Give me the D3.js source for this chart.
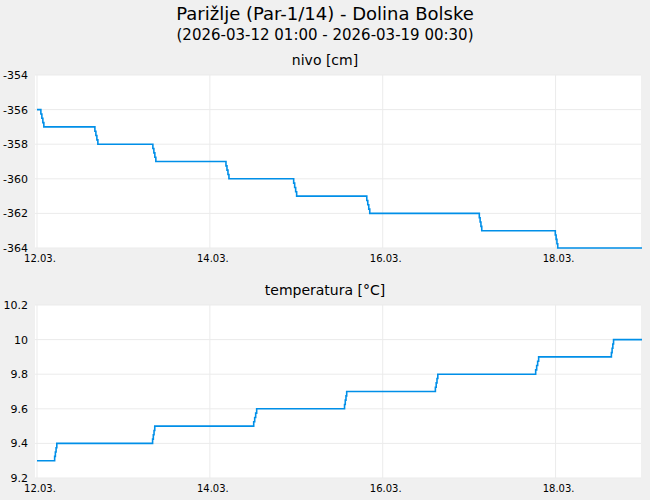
<!DOCTYPE html>
<html><head><meta charset="utf-8">
<script src="https://cdn.jsdelivr.net/npm/d3@7"></script>
<style>body{margin:0;background:#f0f0f0}svg{font-family:"DejaVu Sans",sans-serif}</style>
</head><body><svg id="c" width="650" height="500"></svg>
<script>
// hours since 12.03. 00:00 and value at each breakpoint
var nivoHours=[0,0.8,1.9,15.8,16.9,31.9,33,52.2,53.3,71,72.1,91.3,92.4,122.6,123.5,143.7,144.6,168];
var nivoVals=[-356,-356,-357,-357,-358,-358,-359,-359,-360,-360,-361,-361,-362,-362,-363,-363,-364,-364];
var tempHours=[0,4.7,5.5,31.9,32.7,59.9,61,85.2,86,110.4,111.3,138.2,139.3,159.3,160.1,168];
var tempVals=[9.3,9.3,9.4,9.4,9.5,9.5,9.6,9.6,9.7,9.7,9.8,9.8,9.9,9.9,10,10];
var nivoTicks=[-354,-356,-358,-360,-362,-364];
var tempTicks=[10.2,10,9.8,9.6,9.4,9.2];
var dayTicks=[0,48,96,144];
var dayLabels=['12.03.','14.03.','16.03.','18.03.'];

var svg=d3.select('#c');
svg.append('text').attr('x',325).attr('y',20).attr('text-anchor','middle').attr('font-size',18).text('Parižlje (Par-1/14) - Dolina Bolske');
svg.append('text').attr('x',325).attr('y',40).attr('text-anchor','middle').attr('font-size',15).text('(2026-03-12 01:00 - 2026-03-19 00:30)');

var x=d3.scaleLinear().domain([0,168]).range([37,642]);

function panel(top,title,hours,vals,ticks,fmt){
  var y=d3.scaleLinear().domain([ticks[ticks.length-1],ticks[0]]).range([top+173,top]);
  svg.append('text').attr('x',325).attr('y',top-10).attr('text-anchor','middle').attr('font-size',14).text(title);
  svg.append('rect').attr('x',35).attr('y',top).attr('width',606).attr('height',173).attr('fill','#fff');
  svg.selectAll(null).data(ticks).enter().append('line')
    .attr('x1',35).attr('x2',641).attr('y1',d=>y(d)).attr('y2',d=>y(d)).attr('stroke','#ebebeb');
  svg.selectAll(null).data(dayTicks).enter().append('line')
    .attr('x1',d=>x(d)).attr('x2',d=>x(d)).attr('y1',top).attr('y2',top+173).attr('stroke','#ebebeb');
  svg.selectAll(null).data(ticks).enter().append('text')
    .attr('x',28).attr('y',d=>y(d)+4).attr('text-anchor','end').attr('font-size',11).text(fmt);
  svg.selectAll(null).data(dayTicks).enter().append('text')
    .attr('x',d=>x(d)+3).attr('y',top+187).attr('text-anchor','middle').attr('font-size',10).text((d,i)=>dayLabels[i]);
  var pts=hours.map((h,i)=>[h,vals[i]]);
  svg.append('path').datum(pts).attr('fill','none').attr('stroke','#008fe8').attr('stroke-width',1.6)
    .attr('d',d3.line().x(d=>x(d[0])).y(d=>y(d[1])).curve(d3.curveStepAfter));
}
// ramps drawn as small steps: expand each transition into 4 sub-steps
function expand(h,v){
  var oh=[],ov=[];
  for(var i=0;i<h.length;i++){
    if(i>0&&v[i]!==v[i-1]){
      for(var k=1;k<4;k++){oh.push(h[i-1]+(h[i]-h[i-1])*k/4);ov.push(v[i-1]+(v[i]-v[i-1])*k/4);}
    }
    oh.push(h[i]);ov.push(v[i]);
  }
  return [oh,ov];
}
var n=expand(nivoHours,nivoVals),t=expand(tempHours,tempVals);
panel(75,'nivo [cm]',n[0],n[1],nivoTicks,d=>d);
panel(305,'temperatura [°C]',t[0],t[1],tempTicks,d=>d);
</script></body></html>
